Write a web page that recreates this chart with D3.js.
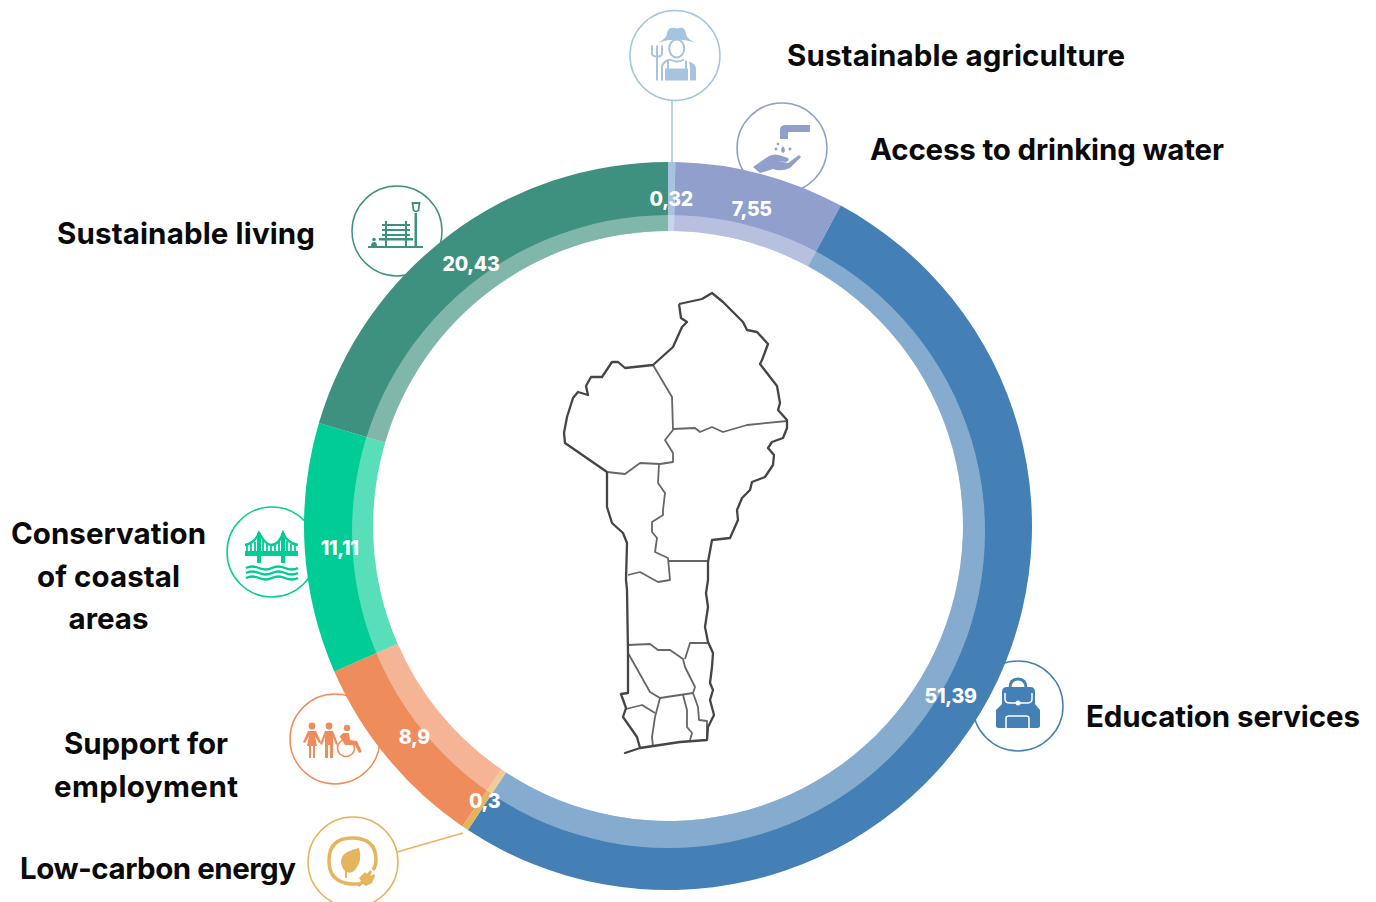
<!DOCTYPE html>
<html>
<head>
<meta charset="utf-8">
<script src="https://cdn.jsdelivr.net/npm/d3@7"></script>
<style>
  html, body { margin: 0; padding: 0; background: #fff; overflow: hidden; }
  .cat { font-family: Inter, sans-serif; font-weight: 700; font-size: 29.5px; fill: #0a0a0a; }
  .val { font-family: Inter, sans-serif; font-weight: 800; font-size: 19.5px; fill: #fff; text-anchor: middle; dominant-baseline: central; letter-spacing: -0.3px; }
</style>
</head>
<body>
<svg id="chart" width="1376" height="902"></svg>
<script>
// Values read from the ring, clockwise from twelve o'clock
const categories = ["Sustainable agriculture", "Access to drinking water", "Education services", "Low-carbon energy", "Support for employment", "Conservation of coastal areas", "Sustainable living"];
const values = [0.32, 7.55, 51.39, 0.3, 8.9, 11.11, 20.43];
const colors = ["#a6c3e0", "#919fcc", "#4480b5", "#e6b45c", "#ee8c5c", "#00cc95", "#3e907f"];

// Commune and department borders of the map, in picture pixels
const mapBorder = [[679,304],[702,299],[712,293],[723,302],[733,312],[743,322],[747,330],[757,332],[768,344],[762,360],[760,364],[777,386],[780,403],[778,410],[787,420],[787,428],[783,438],[772,442],[768,448],[774,455],[773,465],[765,477],[752,482],[750,490],[742,498],[737,510],[738,520],[730,538],[712,540],[708,562],[708,580],[706,593],[708,607],[705,627],[708,642],[713,653],[712,667],[710,683],[713,690],[710,700],[714,715],[708,727],[707,740],[680,742],[640,748],[625,753],[640,748],[637,737],[630,727],[623,717],[626,708],[621,694],[628,693],[628,653],[627,590],[626,580],[627,543],[623,533],[612,523],[607,507],[607,472],[565,443],[564,433],[567,417],[573,398],[578,392],[588,395],[586,386],[591,377],[602,377],[612,362],[618,362],[625,368],[653,365],[673,347],[682,327],[687,322],[681,318],[679,304]];
const mapInner = [
  [[653,365],[672,397],[673,430],[665,440],[673,453],[673,462],[660,464],[640,463],[625,474],[607,472]],
  [[673,429],[695,428],[700,432],[712,427],[723,432],[747,425],[787,421]],
  [[659,464],[658,483],[665,493],[663,510],[663,515],[652,522],[652,532],[657,538],[655,552],[668,558],[670,580],[658,582],[640,572],[628,575]],
  [[668,561],[708,561]],
  [[628,645],[650,644],[658,650],[670,650],[683,659],[685,667],[695,687],[693,693],[660,698],[650,692],[628,653]],
  [[685,659],[690,643],[708,643]],
  [[660,698],[655,717],[652,737],[653,747]],
  [[683,695],[687,710],[687,727],[692,733],[690,740]],
  [[693,693],[698,707],[699,720],[707,721],[707,740]],
  [[626,709],[642,705],[655,713]]
];

const cx = 668, cy = 526;
const outerR = 364, innerR = 295, labelR = 329;

const svg = d3.select("#chart");
const defs = svg.append("defs");

// The pale band's outer edge is a circle sitting a little lower than the ring
defs.append("clipPath").attr("id", "bandClip")
  .append("circle").attr("cx", 0.5).attr("cy", 5.5).attr("r", 316.5);
defs.append("filter").attr("id", "soft")
  .append("feGaussianBlur").attr("stdDeviation", 0.45);

const pie = d3.pie().sort(null).value(d => d);
const arcs = pie(values);
const arcFull = d3.arc().innerRadius(innerR).outerRadius(outerR);
const arcLabel = d3.arc().innerRadius(labelR).outerRadius(labelR);

// Leader lines sit under the ring
svg.append("line").attr("x1", 672).attr("y1", 100).attr("x2", 672).attr("y2", 165)
  .attr("stroke", colors[0]).attr("stroke-width", 1.5);
svg.append("line").attr("x1", 397).attr("y1", 852).attr("x2", 463).attr("y2", 833)
  .attr("stroke", colors[3]).attr("stroke-width", 1.5);

// Icon circles, also under the ring
const icons = [
  { x: 675, y: 55.5, c: colors[0], draw: farmer },
  { x: 782, y: 148, c: colors[1], draw: water },
  { x: 1018, y: 706, c: colors[2], draw: backpack },
  { x: 353, y: 862, c: colors[3], draw: energy },
  { x: 335, y: 739, c: colors[4], draw: people },
  { x: 272, y: 552, c: colors[5], draw: bridge },
  { x: 397, y: 231, c: colors[6], draw: bench }
];
icons.forEach(d => {
  const g = svg.append("g").attr("transform", `translate(${d.x},${d.y})`);
  g.append("circle").attr("r", 45).attr("fill", "#fff").attr("stroke", d.c).attr("stroke-width", 1.5);
  d.draw(g, d.c);
});

// Ring
const ring = svg.append("g").attr("transform", `translate(${cx},${cy})`);
ring.selectAll(".outer").data(arcs).join("path").attr("class", "outer")
  .attr("d", arcFull).attr("fill", (d, i) => colors[i]);
ring.append("g").attr("clip-path", "url(#bandClip)")
  .selectAll(".band").data(arcs).join("path").attr("class", "band")
  .attr("d", arcFull).attr("fill", "#fff").attr("fill-opacity", 0.35);
ring.selectAll(".val").data(arcs).join("text").attr("class", "val")
  .attr("transform", d => { const p = arcLabel.centroid(d); return `translate(${p[0]},${p[1] + 1.5})`; })
  .text(d => String(d.data).replace(".", ","));

// Map
const line = d3.line();
const map = svg.append("g").attr("fill", "none").attr("stroke-linejoin", "round").attr("filter", "url(#soft)");
map.selectAll(".inner").data(mapInner).join("path").attr("class", "inner")
  .attr("d", line).attr("stroke", "#666").attr("stroke-width", 1.8);
map.append("path").attr("d", line(mapBorder)).attr("stroke", "#444").attr("stroke-width", 2.3);

// Category labels, w is the line's width in the picture
const labels = [
  { t: ["Sustainable agriculture"], w: [338], x: 787, y: 55, a: "start" },
  { t: ["Access to drinking water"], w: [354], x: 870, y: 149, a: "start" },
  { t: ["Education services"], w: [274], x: 1086, y: 716, a: "start" },
  { t: ["Low-carbon energy"], w: [276], x: 20, y: 868, a: "start" },
  { t: ["Support for", "employment"], w: [164, 184], x: 146, y: 743, a: "middle" },
  { t: ["Conservation", "of coastal", "areas"], w: [195, 143, 80], x: 108.5, y: 533, a: "middle" },
  { t: ["Sustainable living"], w: [258], x: 57, y: 233, a: "start" }
];
labels.forEach(d => {
  d.t.forEach((s, i) => {
    svg.append("text").attr("class", "cat")
      .attr("x", d.x).attr("y", d.y + i * 42.5)
      .attr("text-anchor", d.a).attr("dominant-baseline", "central")
      .attr("textLength", d.w[i]).attr("lengthAdjust", "spacing")
      .text(s);
  });
});

function farmer(g, c) {
  g.append("path").attr("fill", c).attr("d", "M-17,-13 Q-8,-17 -8,-22 Q-7,-30 2,-27 Q10,-30 11,-22 Q11,-17 20,-13 Q2,-19 -17,-13Z");
  g.append("ellipse").attr("cx", 1.7).attr("cy", -7).attr("rx", 7.5).attr("ry", 9).attr("fill", "#fff").attr("stroke", c).attr("stroke-width", 2);
  // bib, straps and sleeves
  g.append("path").attr("fill", c).attr("d", "M-10,13 H13 V25 H-10Z M14,6 Q21,8 21,14 V25 H15 V12Z");
  g.append("path").attr("fill", "none").attr("stroke", c).attr("stroke-width", 2)
    .attr("d", "M-13,25 V11 Q-12,6 -5,4 M-7,5 V14 M11,5 V14 M-5,4 Q2,8 9,4");
  g.append("path").attr("fill", "none").attr("stroke", c).attr("stroke-width", 2)
    .attr("d", "M-18,25 V-10 M-23,-10 V-2 Q-23,1 -18,1 Q-13,1 -13,-2 V-10");
}

function water(g, c) {
  g.append("path").attr("fill", c).attr("d", "M-2,-9 V-18 Q-2,-23 4,-23 H28 V-16 H7 Q6,-16 6,-14 V-9Z");
  g.append("path").attr("fill", c).attr("d", "M1,-2 Q-3,3 1,5 Q5,3 1,-2Z");
  g.append("circle").attr("cx", -6).attr("cy", 1).attr("r", 1.5).attr("fill", c);
  g.append("circle").attr("cx", 8).attr("cy", 1).attr("r", 1.5).attr("fill", c);
  g.append("circle").attr("cx", -4).attr("cy", -4).attr("r", 1.3).attr("fill", c);
  g.append("path").attr("fill", c).attr("d", "M-29,19 L-13,8 Q-7,5 0,8 L6,10 Q8,13 4,14 L-4,13 L6,15 L17,7 L19,9 L8,20 Q-1,24 -9,21 L-22,25Z");
}

function backpack(g, c) {
  g.append("path").attr("fill", "none").attr("stroke", c).attr("stroke-width", 3).attr("d", "M-8,-18 Q-8,-27 0,-27 Q8,-27 8,-18");
  g.append("path").attr("fill", c).attr("d", "M-16,-2 V-14 Q-16,-19 -11,-19 H12 Q17,-19 17,-14 V-2 L22,4 V20 Q22,22 18,22 H-18 Q-22,22 -22,20 V4Z");
  g.append("path").attr("fill", "none").attr("stroke", "#fff").attr("stroke-width", 1.5).attr("d", "M-13,-13 V-7 Q-13,-3 -8,-3 H9 Q14,-3 14,-7 V-13 M-12,23 V12 Q-12,10 -9,10 H8 Q11,10 11,12 V23");
  g.append("circle").attr("cx", 0).attr("cy", -3).attr("r", 2.5).attr("fill", "#fff");
}

function energy(g, c) {
  g.append("path").attr("fill", "none").attr("stroke", c).attr("stroke-width", 3.5).attr("d", "M6,22 H-2 Q-24,20 -24,-1 Q-24,-24 -1,-24 Q23,-24 23,-2 Q23,4 20,8");
  g.append("path").attr("fill", c).attr("d", "M6,-14 Q10,-2 2,8 Q-2,12 -6,10 L-6,16 L-8,16 L-8,9 Q-14,2 -11,-5 Q-8,-11 6,-14Z");
  g.append("path").attr("fill", c).attr("d", "M4,22 L8,19 L6,16 L12,10 L14,12 L17,8 L19,10 L17,14 L21,12 L22,14 L19,21 L13,24 L10,22 L6,25Z");
}

function people(g, c) {
  g.append("circle").attr("cx", -23).attr("cy", -13).attr("r", 3.4).attr("fill", c);
  g.append("path").attr("fill", c).attr("d", "M-27,-8 H-19 L-14,3 L-16,4 L-20,-3 L-18,7 H-20 V19 H-22 V7 H-24 V19 H-26 V7 H-28 L-26,-3 L-30,4 L-32,3Z");
  g.append("circle").attr("cx", -6).attr("cy", -13).attr("r", 3.4).attr("fill", c);
  g.append("path").attr("fill", c).attr("d", "M-10,-8 H-2 L3,5 L1,6 L-2,-2 V19 H-5 V6 H-7 V19 H-10 V-2 L-13,6 L-15,5Z");
  g.append("circle").attr("cx", 12).attr("cy", -11).attr("r", 3.2).attr("fill", c);
  g.append("path").attr("fill", c).attr("d", "M8,-6 L14,-6 L15,1 L22,2 L27,13 L24,14 L20,6 L10,6 L5,-2 L4,-2Z");
  g.append("circle").attr("cx", 11).attr("cy", 9).attr("r", 8.5).attr("fill", "none").attr("stroke", c).attr("stroke-width", 1.6);
}

function bridge(g, c) {
  g.append("path").attr("fill", "none").attr("stroke", c).attr("stroke-width", 2.4).attr("d", "M-27,-7 Q-17,-9 -13,-19 Q-6,-7 -1,-7 Q7,-7 11,-19 Q15,-9 26,-7");
  g.append("path").attr("fill", c).attr("d", "M-27,-1 H26 V4 H-27Z M-15,-19 H-11 V11 H-15Z M9,-19 H13 V11 H9Z");
  g.append("path").attr("fill", "none").attr("stroke", c).attr("stroke-width", 1.8)
    .attr("d", "M-25,-7 V0 M-21,-8 V0 M-17,-10 V0 M-9,-12 V0 M-5,-9 V0 M-1,-7 V0 M3,-8 V0 M7,-11 V0 M15,-11 V0 M19,-8 V0 M23,-7 V0");
  ["M-26,16 Q-20,13 -13,16 T0,16 T13,16 T26,16", "M-26,21 Q-20,18 -13,21 T0,21 T13,21 T26,21", "M-26,26 Q-20,23 -13,26 T0,26 T13,26 T26,26"].forEach(p => {
    g.append("path").attr("fill", "none").attr("stroke", c).attr("stroke-width", 2.4).attr("d", p);
  });
}

function bench(g, c) {
  g.append("path").attr("fill", c).attr("d", "M-29,15 H26 V17 H-29Z M17.5,-18 H20 V16 H17.5Z M-15,-7 H13 V-5 H-15Z M-15,-2 H13 V0 H-15Z M-15,3 H13 V5 H-15Z M-18,7 H16 V9.5 H-18Z M-12,-10 H-10 V16 H-12Z M8,-10 H10 V16 H8Z");
  g.append("path").attr("fill", "none").attr("stroke", c).attr("stroke-width", 1.8).attr("d", "M15.5,-28 H22.5 L21.5,-21 Q19,-18 16.5,-21Z");
  g.append("path").attr("fill", c).attr("d", "M-26,15 Q-26,11 -23,11 Q-20,11 -20,15Z");
  g.append("circle").attr("cx", -23).attr("cy", 8.5).attr("r", 1.8).attr("fill", c);
}
</script>
</body>
</html>
